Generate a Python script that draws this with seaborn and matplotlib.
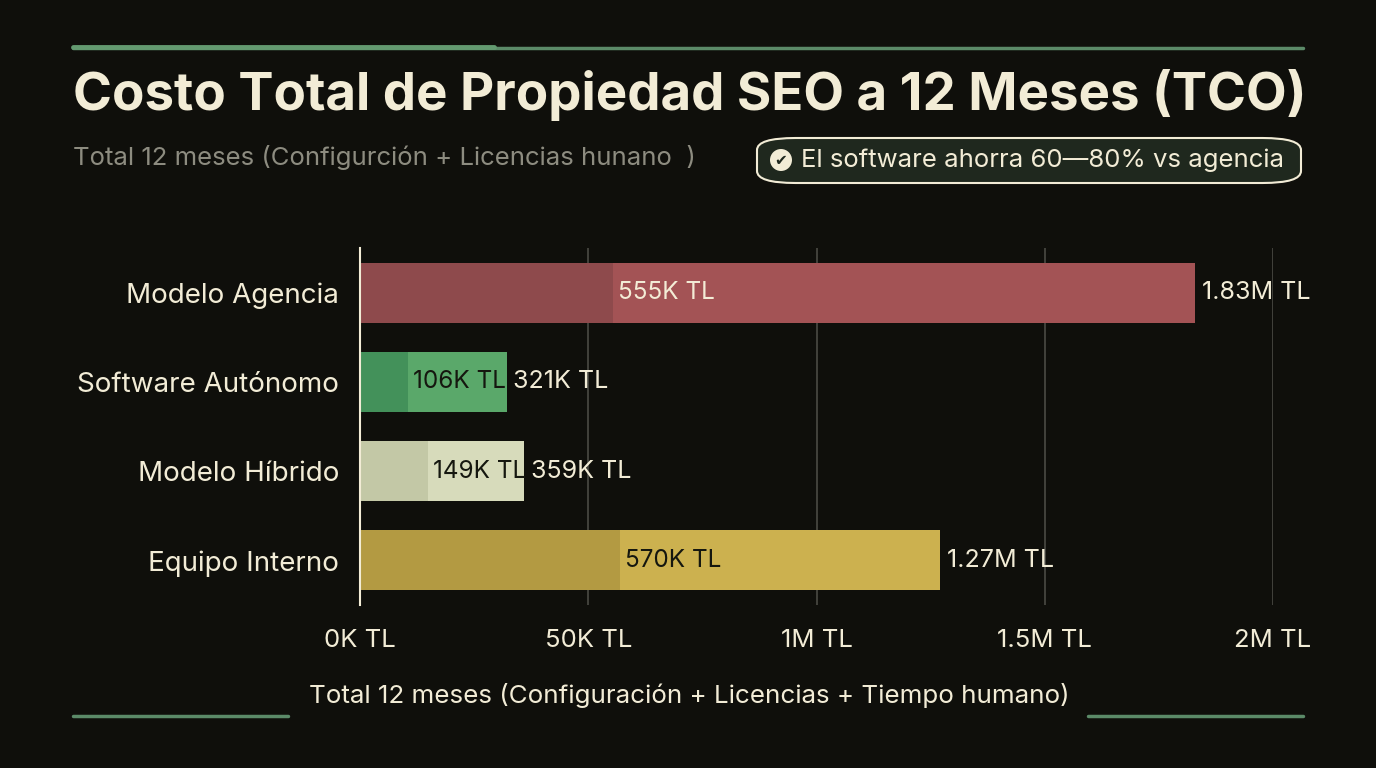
import numpy as np
import pandas as pd
import seaborn as sns
import matplotlib.pyplot as plt
from matplotlib.patches import FancyBboxPatch, Ellipse

# Data
modelos = ['Modelo Agencia', 'Software Autónomo', 'Modelo Híbrido', 'Equipo Interno']
configuracion = [555000, 106000, 149000, 570000]
total_12m = [1830000, 321000, 359000, 1270000]
etiq_config = ['555K TL', '106K TL', '149K TL', '570K TL']
etiq_total = ['1.83M TL', '321K TL', '359K TL', '1.27M TL']
ticks = [0, 500000, 1000000, 1500000, 2000000]
tick_labels = ['0K TL', '50K TL', '1M TL', '1.5M TL', '2M TL']

col_claro = ['#a35355', '#5aa86a', '#d7dbbb', '#ccb14f']
col_oscuro = ['#8e4a4c', '#43915a', '#c3c8a6', '#b39a42']
col_texto_seg = ['#f3ecd6', '#15170f', '#15170f', '#15170f']

BG = '#0f0f0b'
CREAM = '#f2ecd6'
GREEN = '#5b8a68'

df = pd.DataFrame({'modelo': modelos, 'config': configuracion, 'total': total_12m})

sns.set_theme(style='dark')
plt.rcParams['font.family'] = ['Inter', 'DejaVu Sans']

fig = plt.figure(figsize=(13.76, 7.68), dpi=100, facecolor=BG)
ax = fig.add_axes([360 / 1376, 1 - 605 / 768, (1273 - 360) / 1376, (605 - 248) / 768])
ax.set_facecolor(BG)

# total bars first, setup segment drawn on top
sns.barplot(data=df, y='modelo', x='total', hue='modelo', palette=col_claro,
            orient='h', width=0.67, legend=False, ax=ax, zorder=3, saturation=1, linewidth=0)
sns.barplot(data=df, y='modelo', x='config', hue='modelo', palette=col_oscuro,
            orient='h', width=0.67, legend=False, ax=ax, zorder=4, saturation=1, linewidth=0)

ax.set_xlim(0, 2000000)
ax.set_ylim(3.5, -0.5)
ax.set_xticks(ticks)
ax.set_xticklabels(tick_labels, color=CREAM, fontsize=18.5)
ax.tick_params(axis='x', length=0, pad=17)
ax.tick_params(axis='y', length=0, pad=15, labelsize=20, labelcolor=CREAM)
ax.set_xlabel('')
ax.set_ylabel('')

for t in ticks[1:]:
    ax.axvline(t, color='#4a4a44', lw=1.2, zorder=1)
for s in ['top', 'right', 'bottom']:
    ax.spines[s].set_visible(False)
ax.spines['left'].set_color(CREAM)
ax.spines['left'].set_linewidth(1.5)
ax.spines['left'].set_zorder(6)
ax.grid(False)

for i in range(len(modelos)):
    ax.text(configuracion[i] + 10000, i, etiq_config[i], color=col_texto_seg[i],
            fontsize=17.5, va='center', ha='left', zorder=5)
    ax.text(total_12m[i] + 15000, i, etiq_total[i], color=CREAM,
            fontsize=18, va='center', ha='left', zorder=5)

# header
fig.text(73 / 1376, 1 - 95 / 768, 'Costo Total de Propiedad SEO a 12 Meses (TCO)',
         color=CREAM, fontsize=38, fontweight='bold', va='center', ha='left')
fig.text(73 / 1376, 1 - 158 / 768, 'Total 12 meses (Configurción + Licencias hunano  )',
         color='#8d8c80', fontsize=18.5, va='center', ha='left')

badge = FancyBboxPatch((757 / 1376, 1 - 183 / 768), (1301 - 757) / 1376, (183 - 138) / 768,
                       boxstyle='round,pad=0,rounding_size=0.028', transform=fig.transFigure,
                       facecolor='#1f281e', edgecolor=CREAM, lw=1.5, mutation_aspect=768 / 1376)
fig.patches.append(badge)
fig.patches.append(Ellipse((781 / 1376, 1 - 160 / 768), 22 / 1376, 22 / 768,
                           transform=fig.transFigure, facecolor=CREAM, edgecolor='none'))
fig.text(781 / 1376, 1 - 160 / 768, '✔', color='#1f281e', fontsize=11, va='center', ha='center',
         family=['DejaVu Sans'])
fig.text(801 / 1376, 1 - 160 / 768, 'El software ahorra 60—80% vs agencia',
         color=CREAM, fontsize=18.5, va='center', ha='left')

# decorative lines
fig.add_artist(plt.Line2D([73 / 1376, 1303 / 1376], [1 - 48 / 768] * 2, color=GREEN, lw=2.5,
                          transform=fig.transFigure))
fig.add_artist(plt.Line2D([73 / 1376, 494 / 1376], [1 - 47 / 768] * 2, color='#639a70', lw=3.5,
                          transform=fig.transFigure))
fig.add_artist(plt.Line2D([73 / 1376, 288 / 1376], [1 - 716 / 768] * 2, color=GREEN, lw=2.5,
                          transform=fig.transFigure))
fig.add_artist(plt.Line2D([1088 / 1376, 1303 / 1376], [1 - 716 / 768] * 2, color=GREEN, lw=2.5,
                          transform=fig.transFigure))

fig.text(689 / 1376, 1 - 696 / 768, 'Total 12 meses (Configuración + Licencias + Tiempo humano)',
         color=CREAM, fontsize=18.7, va='center', ha='center')

fig.savefig('out.png', dpi=100, facecolor=BG)
